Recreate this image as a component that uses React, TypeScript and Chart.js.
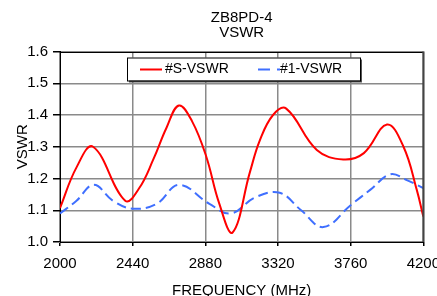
import React, { useEffect, useRef } from "react";
import { Chart, registerables } from "chart.js";

Chart.register(...registerables);

const titleLines = ["ZB8PD-4", "VSWR"];
const xTitle = "FREQUENCY (MHz)";
const yTitle = "VSWR";
const seriesNames = ["#S-VSWR", "#1-VSWR"];

const xTicks = [2000, 2440, 2880, 3320, 3760, 4200];
const yTicks = [1.0, 1.1, 1.2, 1.3, 1.4, 1.5, 1.6];

const redFreq = [2000, 2100, 2200, 2395, 2480, 2565, 2645, 2720, 2800, 2885, 2965, 3045, 3150, 3210, 3290, 3370, 3555, 3715, 3840, 3980, 4080, 4160, 4200];
const redVswr = [1.107, 1.235, 1.30, 1.13, 1.17, 1.26, 1.36, 1.43, 1.38, 1.27, 1.12, 1.03, 1.22, 1.32, 1.40, 1.42, 1.29, 1.26, 1.28, 1.37, 1.30, 1.165, 1.08];

const blueFreq = [2000, 2100, 2205, 2320, 2440, 2585, 2720, 2905, 3035, 3180, 3330, 3460, 3595, 3760, 3880, 4000, 4100, 4200];
const blueVswr = [1.09, 1.13, 1.18, 1.13, 1.105, 1.12, 1.18, 1.12, 1.09, 1.14, 1.155, 1.10, 1.047, 1.116, 1.165, 1.213, 1.195, 1.17];

const FONT = "'Liberation Sans', Arial, sans-serif";

const legendBoxPlugin = {
  id: "legendBox",
  afterDraw(chart: any) {
    const { ctx, chartArea } = chart;
    const left = chartArea.left + 67;
    const top = chartArea.top + 6;
    const w = 233;
    const h = 23;
    ctx.save();
    ctx.fillStyle = "#555";
    ctx.fillRect(left + 2, top + 2, w, h);
    ctx.fillStyle = "#fff";
    ctx.fillRect(left, top, w, h);
    ctx.strokeStyle = "#000";
    ctx.lineWidth = 1;
    ctx.strokeRect(left + 0.5, top + 0.5, w, h);
    const cy = top + h / 2 + 0.5;
    const items = [
      { x: left + 13, textX: left + 38, ds: chart.data.datasets[0] },
      { x: left + 131, textX: left + 153, ds: chart.data.datasets[1] },
    ];
    ctx.font = `14px ${FONT}`;
    ctx.textBaseline = "middle";
    for (const it of items) {
      ctx.beginPath();
      ctx.strokeStyle = it.ds.borderColor;
      ctx.lineWidth = 2;
      ctx.setLineDash(it.ds.borderDash ? [12, 7] : []);
      ctx.moveTo(it.x, cy);
      ctx.lineTo(it.x + 22, cy);
      ctx.stroke();
      ctx.setLineDash([]);
      ctx.fillStyle = "#000";
      ctx.fillText(it.ds.label, it.textX, cy);
    }
    ctx.restore();
  },
};

const frameLines = {
  id: "frameLines",
  afterDatasetsDraw(chart: any) {
    const { ctx, chartArea } = chart;
    ctx.save();
    ctx.strokeStyle = "#000";
    ctx.lineWidth = 1;
    ctx.beginPath();
    ctx.moveTo(chartArea.left, Math.round(chartArea.top) + 0.5);
    ctx.lineTo(chartArea.right, Math.round(chartArea.top) + 0.5);
    ctx.stroke();
    ctx.strokeStyle = "#444";
    ctx.lineWidth = 2;
    ctx.beginPath();
    ctx.moveTo(chartArea.right, chartArea.top);
    ctx.lineTo(chartArea.right, chartArea.bottom);
    ctx.stroke();
    ctx.restore();
  },
};

export default function App() {
  const ref = useRef<HTMLCanvasElement>(null);
  useEffect(() => {
    if (!ref.current) return;
    const chart = new Chart(ref.current, {
      type: "line",
      data: {
        datasets: [
          {
            label: seriesNames[0],
            data: redFreq.map((f, i) => ({ x: f, y: redVswr[i] })),
            borderColor: "#FF0000",
            borderWidth: 2,
            pointRadius: 0,
            tension: 0.4,
            fill: false,
          },
          {
            label: seriesNames[1],
            data: blueFreq.map((f, i) => ({ x: f, y: blueVswr[i] })),
            borderColor: "#3F6FFF",
            borderWidth: 2,
            borderDash: [10, 5],
            pointRadius: 0,
            tension: 0.4,
            fill: false,
          },
        ],
      },
      options: {
        responsive: false,
        animation: false,
        devicePixelRatio: 1,
        layout: { padding: 0 },
        plugins: {
          legend: { display: false },
          tooltip: { enabled: false },
          title: {
            display: true,
            text: titleLines,
            fullSize: false,
            color: "#000",
            font: { family: FONT, size: 15, weight: "normal", lineHeight: 1.0 },
            padding: { top: 10, bottom: 11.5 },
          },
        },
        scales: {
          x: {
            type: "linear",
            min: xTicks[0],
            max: xTicks[xTicks.length - 1],
            afterBuildTicks: (s: any) => {
              s.ticks = xTicks.map((v) => ({ value: v }));
            },
            afterFit: (s: any) => {
              s.height = 58;
            },
            ticks: {
              color: "#000",
              font: { family: FONT, size: 15 },
              padding: 9,
              maxRotation: 0,
              autoSkip: false,
              callback: (v: any) => String(v),
            },
            grid: {
              color: "#8a8a8a",
              lineWidth: 1.5,
              tickLength: 4,
              tickColor: "#000",
            },
            border: { color: "#000", width: 1 },
            title: {
              display: true,
              text: xTitle,
              color: "#000",
              font: { family: FONT, size: 15 },
              padding: { top: 0, bottom: 0 },
            },
          },
          y: {
            type: "linear",
            min: yTicks[0],
            max: yTicks[yTicks.length - 1],
            afterBuildTicks: (s: any) => {
              s.ticks = yTicks.map((v) => ({ value: v }));
            },
            afterFit: (s: any) => {
              s.width = 60;
            },
            ticks: {
              color: "#000",
              font: { family: FONT, size: 15 },
              padding: 5,
              callback: (v: any) => Number(v).toFixed(1),
            },
            grid: {
              color: "#8a8a8a",
              lineWidth: 1.5,
              tickLength: 7,
              tickColor: "#000",
            },
            border: { color: "#000", width: 1 },
            title: {
              display: true,
              text: yTitle,
              color: "#000",
              font: { family: FONT, size: 15 },
              padding: { top: 14, bottom: 0 },
            },
          },
        },
      } as any,
      plugins: [frameLines, legendBoxPlugin],
    });
    return () => chart.destroy();
  }, []);
  return (
    <div style={{ position: "fixed", left: 0, top: 0, width: 437, height: 296, overflow: "hidden", background: "#fff" }}>
      <canvas ref={ref} width={449} height={300} style={{ display: "block", width: 449, height: 300 }} />
    </div>
  );
}
